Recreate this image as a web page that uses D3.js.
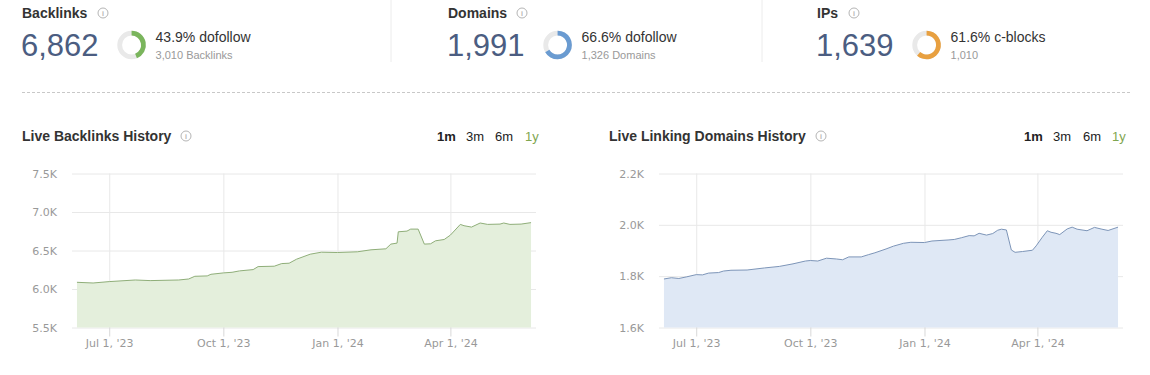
<!DOCTYPE html>
<html>
<head>
<meta charset="utf-8">
<script src="https://cdn.jsdelivr.net/npm/d3@7"></script>
<style>
  body { margin: 0; background: #fff; }
  svg { display: block; }
</style>
</head>
<body>
<div id="chart"></div>
<script>
// Summary stats at the top
var statTitles = ["Backlinks", "Domains", "IPs"];
var statTotals = ["6,862", "1,991", "1,639"];
var statPct = [43.9, 66.6, 61.6];
var statPctLabels = ["43.9% dofollow", "66.6% dofollow", "61.6% c-blocks"];
var statSubs = ["3,010 Backlinks", "1,326 Domains", "1,010"];

// Live backlinks history
var blDates = ["2023-06-05","2023-06-18","2023-07-01","2023-07-22","2023-08-03","2023-08-26","2023-09-03",
  "2023-09-08","2023-09-18","2023-09-21","2023-10-01","2023-10-08","2023-10-14","2023-10-25","2023-10-29",
  "2023-11-11","2023-11-17","2023-11-23","2023-11-29","2023-12-10","2023-12-19","2024-01-01","2024-01-17",
  "2024-01-28","2024-02-09","2024-02-13","2024-02-18","2024-02-19","2024-02-26","2024-02-29","2024-03-06",
  "2024-03-11","2024-03-16","2024-03-20","2024-03-27","2024-04-01","2024-04-09","2024-04-12","2024-04-18",
  "2024-04-25","2024-05-01","2024-05-11","2024-05-14","2024-05-19","2024-05-28","2024-06-05"];
var blValues = [6087,6078,6096,6117,6109,6117,6130,
  6165,6170,6191,6209,6217,6235,6252,6291,
  6296,6330,6335,6387,6452,6478,6474,6483,
  6509,6522,6583,6596,6743,6752,6778,6778,
  6583,6587,6626,6643,6700,6839,6822,6804,
  6857,6839,6843,6857,6839,6843,6862];

// Live linking domains history
var rdDates = ["2023-06-05","2023-06-11","2023-06-17","2023-06-23","2023-07-01","2023-07-06","2023-07-11",
  "2023-07-19","2023-07-23","2023-07-29","2023-08-11","2023-08-25","2023-09-06","2023-09-17","2023-09-27",
  "2023-10-01","2023-10-07","2023-10-14","2023-10-22","2023-10-27","2023-11-01","2023-11-11","2023-11-17",
  "2023-11-22","2023-12-01","2023-12-07","2023-12-15","2023-12-21","2024-01-01","2024-01-07","2024-01-20",
  "2024-01-25","2024-01-31","2024-02-06","2024-02-10","2024-02-14","2024-02-20","2024-02-25","2024-02-29",
  "2024-03-03","2024-03-07","2024-03-11","2024-03-14","2024-03-20","2024-03-28","2024-03-31","2024-04-05",
  "2024-04-09","2024-04-12","2024-04-16","2024-04-19","2024-04-25","2024-04-29","2024-05-03","2024-05-11",
  "2024-05-17","2024-05-23","2024-05-28","2024-06-05"];
var rdValues = [1789,1794,1791,1797,1806,1805,1812,
  1814,1820,1823,1824,1832,1838,1848,1859,
  1861,1859,1870,1867,1864,1875,1875,1884,
  1891,1906,1917,1928,1932,1931,1937,1941,
  1943,1950,1958,1957,1967,1960,1966,1979,
  1983,1980,1902,1893,1896,1901,1918,1952,
  1977,1971,1967,1962,1984,1991,1983,1977,
  1990,1983,1978,1991];

var blTicks = [5500, 6000, 6500, 7000, 7500];
var blTickLabels = ["5.5K", "6.0K", "6.5K", "7.0K", "7.5K"];
var rdTicks = [1600, 1800, 2000, 2200];
var rdTickLabels = ["1.6K", "1.8K", "2.0K", "2.2K"];
var xTickDates = ["2023-07-01", "2023-10-01", "2024-01-01", "2024-04-01"];
var xTickLabels = ["Jul 1, '23", "Oct 1, '23", "Jan 1, '24", "Apr 1, '24"];
var rangeButtons = ["1m", "3m", "6m", "1y"];

var parse = d3.timeParse("%Y-%m-%d");
var W = 1150, H = 375;
var headFont = "'Liberation Sans', Arial, sans-serif";
var axisFont = "'DejaVu Sans', Verdana, sans-serif";

var svg = d3.select("#chart").append("svg")
    .attr("width", W)
    .attr("height", H);

// little circled "i"
function infoIcon(g, cx, cy) {
  g.append("circle").attr("cx", cx).attr("cy", cy).attr("r", 5)
    .attr("fill", "none").attr("stroke", "#b5b5b5").attr("stroke-width", 1);
  g.append("text").attr("x", cx).attr("y", cy + 3).attr("text-anchor", "middle")
    .style("font", "bold 7px " + headFont).attr("fill", "#b5b5b5").text("i");
}

// ---- stats row ----
var statX = [22, 448, 817];
var statColors = ["#7ab55c", "#6a9bd1", "#e8a040"];
var arc = d3.arc().innerRadius(9.5).outerRadius(14.3);
var iconDx = [81, 74, 37];

statTitles.forEach(function(t, i) {
  var g = svg.append("g").attr("transform", "translate(" + statX[i] + ",0)");
  g.append("text").attr("x", 0).attr("y", 17.5)
    .style("font", "bold 14px " + headFont).attr("fill", "#333").text(t);
  infoIcon(g, iconDx[i], 13);
  var big = g.append("text").attr("x", -1).attr("y", 56)
    .style("font", "31px " + headFont).attr("fill", "#4b5d81").text(statTotals[i]);
  var bw = big.node().getComputedTextLength();
  var cx = bw + 32;
  var donut = g.append("g").attr("transform", "translate(" + cx + ",45)");
  donut.append("path").attr("d", arc({startAngle: 0, endAngle: 2 * Math.PI})).attr("fill", "#e9e9e9");
  donut.append("path").attr("d", arc({startAngle: 0, endAngle: 2 * Math.PI * statPct[i] / 100}))
    .attr("fill", statColors[i]);
  g.append("text").attr("x", cx + 24).attr("y", 42)
    .style("font", "14px " + headFont).attr("fill", "#333").text(statPctLabels[i]);
  g.append("text").attr("x", cx + 24).attr("y", 58.5)
    .style("font", "11px " + headFont).attr("fill", "#999").text(statSubs[i]);
});

// separators
[391, 762].forEach(function(x) {
  svg.append("line").attr("x1", x).attr("x2", x).attr("y1", 0).attr("y2", 62)
    .attr("stroke", "#ececec");
});
svg.append("line").attr("x1", 22).attr("x2", 1132).attr("y1", 92.5).attr("y2", 92.5)
  .attr("stroke", "#c8c8c8").attr("stroke-dasharray", "3,2");

// ---- history charts ----
function historyChart(opt) {
  var top = 173.5, bottom = 327.5, width = 464;
  var g = svg.append("g");

  g.append("text").attr("x", opt.titleX).attr("y", 141)
    .style("font", "bold 14px " + headFont).attr("fill", "#333").text(opt.title);
  infoIcon(g, opt.iconX, 136);

  rangeButtons.forEach(function(b, i) {
    g.append("text").attr("x", opt.btnX[i]).attr("y", 141)
      .style("font", (i === 0 ? "bold " : "") + "13px " + headFont)
      .attr("fill", i === 3 ? "#7fa650" : "#222").text(b);
  });

  var x = d3.scaleTime()
      .domain([parse("2023-06-01"), parse("2024-06-09")])
      .range([opt.left, opt.left + width]);
  var y = d3.scaleLinear().domain(opt.yDomain).range([bottom, top]);

  var data = opt.dates.map(function(d, i) { return {date: parse(d), value: opt.values[i]}; });

  // horizontal grid + labels
  var ya = g.append("g")
      .attr("transform", "translate(" + opt.left + ",0)")
      .call(d3.axisLeft(y).tickValues(opt.ticks)
        .tickFormat(function(d, i) { return opt.tickLabels[i]; })
        .tickSize(-width).tickPadding(15));
  ya.select(".domain").remove();
  ya.selectAll("line").attr("stroke", "#e8e8e8");
  ya.selectAll("text").style("font", "11px " + axisFont).attr("fill", "#999");

  // vertical grid
  var xg = g.append("g")
      .attr("transform", "translate(0," + bottom + ")")
      .call(d3.axisBottom(x).tickValues(xTickDates.map(parse))
        .tickFormat("").tickSize(-(bottom - top)));
  xg.select(".domain").remove();
  xg.selectAll("line").attr("stroke", "#e8e8e8");

  // area + line
  g.append("path").datum(data)
    .attr("fill", opt.fill)
    .attr("d", d3.area().x(function(d) { return x(d.date); })
      .y0(bottom).y1(function(d) { return y(d.value); }));
  g.append("path").datum(data)
    .attr("fill", "none").attr("stroke", opt.stroke).attr("stroke-width", 1)
    .attr("d", d3.line().x(function(d) { return x(d.date); })
      .y(function(d) { return y(d.value); }));

  // x axis ticks + labels
  var xa = g.append("g")
      .attr("transform", "translate(0," + bottom + ")")
      .call(d3.axisBottom(x).tickValues(xTickDates.map(parse))
        .tickFormat(function(d, i) { return xTickLabels[i]; })
        .tickSize(9).tickPadding(3));
  xa.select(".domain").remove();
  xa.selectAll("line").attr("stroke", "#d8d8d8");
  xa.selectAll("text").style("font", "11px " + axisFont).attr("fill", "#999");
}

historyChart({
  title: "Live Backlinks History", titleX: 22, iconX: 186,
  btnX: [437, 466, 495, 525],
  left: 72, yDomain: [5500, 7500], ticks: blTicks, tickLabels: blTickLabels,
  dates: blDates, values: blValues, fill: "#e4efdc", stroke: "#8fae79"
});

historyChart({
  title: "Live Linking Domains History", titleX: 609, iconX: 821,
  btnX: [1024, 1053, 1083, 1112],
  left: 659, yDomain: [1600, 2200], ticks: rdTicks, tickLabels: rdTickLabels,
  dates: rdDates, values: rdValues, fill: "#dfe8f5", stroke: "#7d95b8"
});
</script>
</body>
</html>
